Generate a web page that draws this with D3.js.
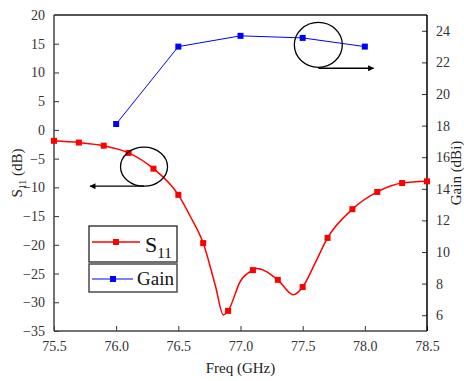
<!DOCTYPE html>
<html>
<head>
<meta charset="utf-8">
<script src="https://cdn.jsdelivr.net/npm/d3@7"></script>
<style>
  body { margin: 0; background: #fff; }
</style>
</head>
<body>
<svg id="chart" width="464" height="381"></svg>
<script>
// values
var s11Freq = [75.5, 75.7, 75.9, 76.1, 76.3, 76.5, 76.7, 76.9, 77.1, 77.3, 77.5, 77.7, 77.9, 78.1, 78.3, 78.5];
var s11Val  = [-1.9, -2.2, -2.75, -4.0, -6.75, -11.3, -19.7, -31.5, -24.4, -26.1, -27.35, -18.8, -13.8, -10.8, -9.25, -8.95];
// unmarked points on the traced curve (between markers)
var s11MidFreq = [76.6, 76.8, 76.862, 77.0, 77.13, 77.425, 77.6];
var s11MidVal  = [-15.2, -27.3, -32.2, -26.3, -24.1, -28.7, -23.2];
var gainFreq = [76.0, 76.5, 77.0, 77.5, 78.0];
var gainVal  = [18.1, 23.0, 23.68, 23.55, 23.0];

var xTicks = [75.5, 76.0, 76.5, 77.0, 77.5, 78.0, 78.5];
var yLTicks = [-35, -30, -25, -20, -15, -10, -5, 0, 5, 10, 15, 20];
var yRTicks = [6, 8, 10, 12, 14, 16, 18, 20, 22, 24];

var FONT = "'Liberation Serif', 'Times New Roman', serif";

var svg = d3.select("#chart").style("font-family", FONT);
var L = 54, R = 427, T = 15, B = 331;

var x = d3.scaleLinear().domain([75.5, 78.5]).range([L, R]);
var yL = d3.scaleLinear().domain([-35, 20]).range([B, T]);
var yR = d3.scaleLinear().domain([5, 25]).range([B, T]);

function minor(step, lo, hi) {
  var out = [];
  for (var v = lo; v <= hi + 1e-9; v += step) out.push(+v.toFixed(3));
  return out;
}

var gx = svg.append("g").attr("transform", "translate(0," + B + ")");
gx.call(d3.axisBottom(x).tickValues(minor(0.25, 75.5, 78.5)).tickSize(-3).tickFormat(""));
gx.call(d3.axisBottom(x).tickValues(xTicks).tickSize(-5).tickPadding(10).tickFormat(d3.format(".1f")));

var gl = svg.append("g").attr("transform", "translate(" + L + ",0)");
gl.call(d3.axisLeft(yL).tickValues(minor(2.5, -35, 20)).tickSize(-3).tickFormat(""));
gl.call(d3.axisLeft(yL).tickValues(yLTicks).tickSize(-5).tickPadding(9));

var gr = svg.append("g").attr("transform", "translate(" + R + ",0)");
gr.call(d3.axisRight(yR).tickValues(minor(1, 5, 25)).tickSize(-3).tickFormat(""));
gr.call(d3.axisRight(yR).tickValues(yRTicks).tickSize(-5).tickPadding(9));

svg.selectAll("g").attr("font-family", null);
svg.selectAll(".domain").remove();
svg.selectAll(".tick line").attr("stroke", "#333").attr("stroke-width", 1);
svg.selectAll(".tick text").style("font-family", FONT).style("font-size", "14px").attr("fill", "#333");

// frame
svg.append("line").attr("x1", L).attr("x2", R).attr("y1", T).attr("y2", T).attr("stroke", "#555").attr("stroke-width", 2);
svg.append("line").attr("x1", L).attr("x2", L).attr("y1", T).attr("y2", B).attr("stroke", "#444").attr("stroke-width", 1.5);
svg.append("line").attr("x1", L).attr("x2", R).attr("y1", B).attr("y2", B).attr("stroke", "#444").attr("stroke-width", 1.5);
svg.append("line").attr("x1", R).attr("x2", R).attr("y1", T).attr("y2", B).attr("stroke", "#000").attr("stroke-width", 1.5);

// S11 trace
var s11 = s11Freq.map(function(f, i) { return [f, s11Val[i]]; });
var s11Trace = s11.concat(s11MidFreq.map(function(f, i) { return [f, s11MidVal[i]]; }))
  .sort(function(a, b) { return a[0] - b[0]; });
var lineS = d3.line().x(function(d) { return x(d[0]); }).y(function(d) { return yL(d[1]); }).curve(d3.curveMonotoneX);
svg.append("path").datum(s11Trace).attr("d", lineS).attr("fill", "none").attr("stroke", "#ff0000").attr("stroke-width", 1.5);
svg.selectAll(".ms").data(s11).enter().append("rect")
  .attr("x", function(d) { return x(d[0]) - 3; }).attr("y", function(d) { return yL(d[1]) - 3; })
  .attr("width", 6).attr("height", 6).attr("fill", "#ff0000");

// Gain line
var gain = gainFreq.map(function(f, i) { return [f, gainVal[i]]; });
var lineG = d3.line().x(function(d) { return x(d[0]); }).y(function(d) { return yR(d[1]); });
svg.append("path").datum(gain).attr("d", lineG).attr("fill", "none").attr("stroke", "#0000ff").attr("stroke-width", 1);
svg.selectAll(".mg").data(gain).enter().append("rect")
  .attr("x", function(d) { return x(d[0]) - 3; }).attr("y", function(d) { return yR(d[1]) - 3; })
  .attr("width", 6).attr("height", 6).attr("fill", "#0000ff");

// annotations: circles and arrows pointing to the axis each curve uses
svg.append("defs").append("marker").attr("id", "arr").attr("viewBox", "0 0 10 10")
  .attr("refX", 9).attr("refY", 5).attr("markerWidth", 10).attr("markerHeight", 6)
  .attr("orient", "auto").attr("markerUnits", "userSpaceOnUse")
  .append("path").attr("d", "M0,0 L10,5 L0,10 z").attr("fill", "#000");

svg.append("ellipse").attr("cx", x(76.224)).attr("cy", yL(-6.4)).attr("rx", 23.5).attr("ry", 19.5)
  .attr("fill", "none").attr("stroke", "#000").attr("stroke-width", 1.3);
svg.append("line").attr("x1", x(76.224)).attr("x2", x(75.79)).attr("y1", yL(-9.8)).attr("y2", yL(-9.8))
  .attr("stroke", "#000").attr("stroke-width", 1.3).attr("marker-end", "url(#arr)");

svg.append("ellipse").attr("cx", x(77.626)).attr("cy", yR(23.11)).attr("rx", 24).attr("ry", 22.5)
  .attr("fill", "none").attr("stroke", "#000").attr("stroke-width", 1.3);
svg.append("line").attr("x1", x(77.626)).attr("x2", x(78.07)).attr("y1", yR(21.63)).attr("y2", yR(21.63))
  .attr("stroke", "#000").attr("stroke-width", 1.3).attr("marker-end", "url(#arr)");

// legend
var lg = svg.append("g");
lg.append("rect").attr("x", 89).attr("y", 226).attr("width", 88).attr("height", 36)
  .attr("fill", "#fff").attr("stroke", "#222").attr("stroke-width", 1.3);
lg.append("line").attr("x1", 92).attr("x2", 140).attr("y1", 242).attr("y2", 242).attr("stroke", "#ff0000").attr("stroke-width", 1.5);
lg.append("rect").attr("x", 113).attr("y", 239).attr("width", 6).attr("height", 6).attr("fill", "#ff0000");
var st = lg.append("text").attr("x", 145).attr("y", 252).style("font-size", "22px").attr("fill", "#111");
st.append("tspan").text("S");
st.append("tspan").style("font-size", "15px").attr("dy", 6).text("11");

lg.append("rect").attr("x", 89).attr("y", 264).attr("width", 88).attr("height", 28)
  .attr("fill", "#fff").attr("stroke", "#555").attr("stroke-width", 1.6);
lg.append("line").attr("x1", 92).attr("x2", 133).attr("y1", 279).attr("y2", 279).attr("stroke", "#0000ff").attr("stroke-width", 1);
lg.append("rect").attr("x", 110).attr("y", 276).attr("width", 6).attr("height", 6).attr("fill", "#0000ff");
lg.append("text").attr("x", 137).attr("y", 285).style("font-size", "19px").attr("fill", "#111").text("Gain");

// axis titles
svg.append("text").attr("x", (L + R) / 2).attr("y", 373).attr("text-anchor", "middle")
  .style("font-size", "15px").attr("fill", "#222").text("Freq (GHz)");

var tl = svg.append("text").attr("transform", "translate(22," + (T + B) / 2 + ") rotate(-90)")
  .attr("text-anchor", "middle").style("font-size", "15px").attr("fill", "#222");
tl.append("tspan").text("S");
tl.append("tspan").style("font-size", "10px").attr("dy", 4).text("11");
tl.append("tspan").attr("dy", -4).text(" (dB)");

svg.append("text").attr("transform", "translate(461," + (T + B) / 2 + ") rotate(-90)")
  .attr("text-anchor", "middle").style("font-size", "15px").attr("fill", "#222").text("Gain (dBi)");
</script>
</body>
</html>
